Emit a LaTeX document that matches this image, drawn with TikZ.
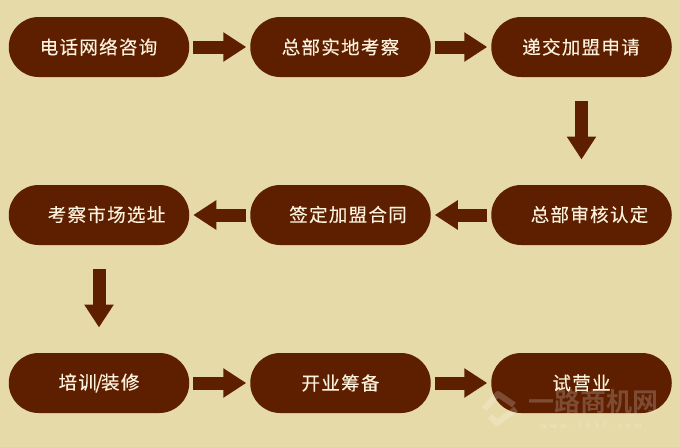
\documentclass[tikz,border=0pt]{standalone}
\usepackage{fontspec}
\usetikzlibrary{arrows.meta}
\newfontfamily\cjk[LetterSpace=7,FakeBold=0.3]{Noto Sans CJK SC}
\newfontfamily\markfont{Noto Sans CJK SC Bold}
\definecolor{paper}{HTML}{E7DAA9}
\definecolor{umber}{HTML}{5E1F00}
\definecolor{labeltext}{HTML}{FBF1DC}
\tikzset{
  x=1pt,y=-1pt,
  stage/.style={draw=none,fill=umber,rounded corners=29.9pt,minimum width=180.5pt,minimum height=60pt,inner sep=0pt,outer sep=0pt,anchor=center},
  stagetext/.style={text=labeltext,font=\fontsize{18.5}{20}\selectfont\cjk,inner sep=0pt,anchor=center},
  flow/.style={draw=umber,line width=13pt,-{Triangle[length=23pt,width=28pt]}},
  across/.style={flow,shorten >=4pt,shorten <=4pt},
  downward/.style={flow,shorten >=25.5pt,shorten <=24pt},
}
\begin{document}
\begin{tikzpicture}
\useasboundingbox (0,0) rectangle (680,447);
\fill[paper] (0,0) rectangle (680,447);
% process stages, row by row
\node[stage] (a1) at (99,47) {};
\node[stage] (a2) at (340.5,47) {};
\node[stage] (a3) at (581.5,47) {};
\node[stage] (b1) at (99,215) {};
\node[stage] (b2) at (340.5,215) {};
\node[stage] (b3) at (581.5,215) {};
\node[stage] (c1) at (99,383) {};
\node[stage] (c2) at (340.5,383) {};
\node[stage] (c3) at (581.5,383) {};
% stage labels
\node[stagetext] (ta1) at (98.5,47) {电话网络咨询};
\node[stagetext] (ta2) at (340.5,47) {总部实地考察};
\node[stagetext] (ta3) at (581,47) {递交加盟申请};
\node[stagetext] (tb1) at (106.5,214.5) {考察市场选址};
\node[stagetext] (tb2) at (348,214.5) {签定加盟合同};
\node[stagetext] (tb3) at (589.5,214.5) {总部审核认定};
\node[stagetext] (tc1) at (99,383) {培训\kern-1.5pt/\kern-1.5pt装修};
\node[stagetext] (tc2) at (340.5,383) {开业筹备};
\node[stagetext] (tc3) at (581.5,383) {试营业};
% connecting arrows
\draw[across] (a1) -- (a2);
\draw[across] (a2) -- (a3);
\draw[downward] (a3) -- (b3);
\draw[across] (b3) -- (b2);
\draw[across] (b2) -- (b1);
\draw[downward] (b1) -- (c1);
\draw[across] (c1) -- (c2);
\draw[across] (c2) -- (c3);
% faint site mark in the lower right corner
\begin{scope}[opacity=0.2]
\node[text=white,font=\fontsize{26}{28}\selectfont,inner sep=0pt] (wm) at (593,402) {\markfont 一路商机网};
\node[text=white,font=\fontsize{9}{11}\selectfont\sffamily\bfseries,inner sep=0pt] (wu) at (591,425) {w w w . 1 6 3 7 . c o m};
\draw[white,line width=6pt,line join=round] (484,409) -- (498,394) -- (514,405);
\draw[white,line width=6pt,line join=round] (490,416) -- (497,423) -- (516,409);
\end{scope}
\end{tikzpicture}
\end{document}
